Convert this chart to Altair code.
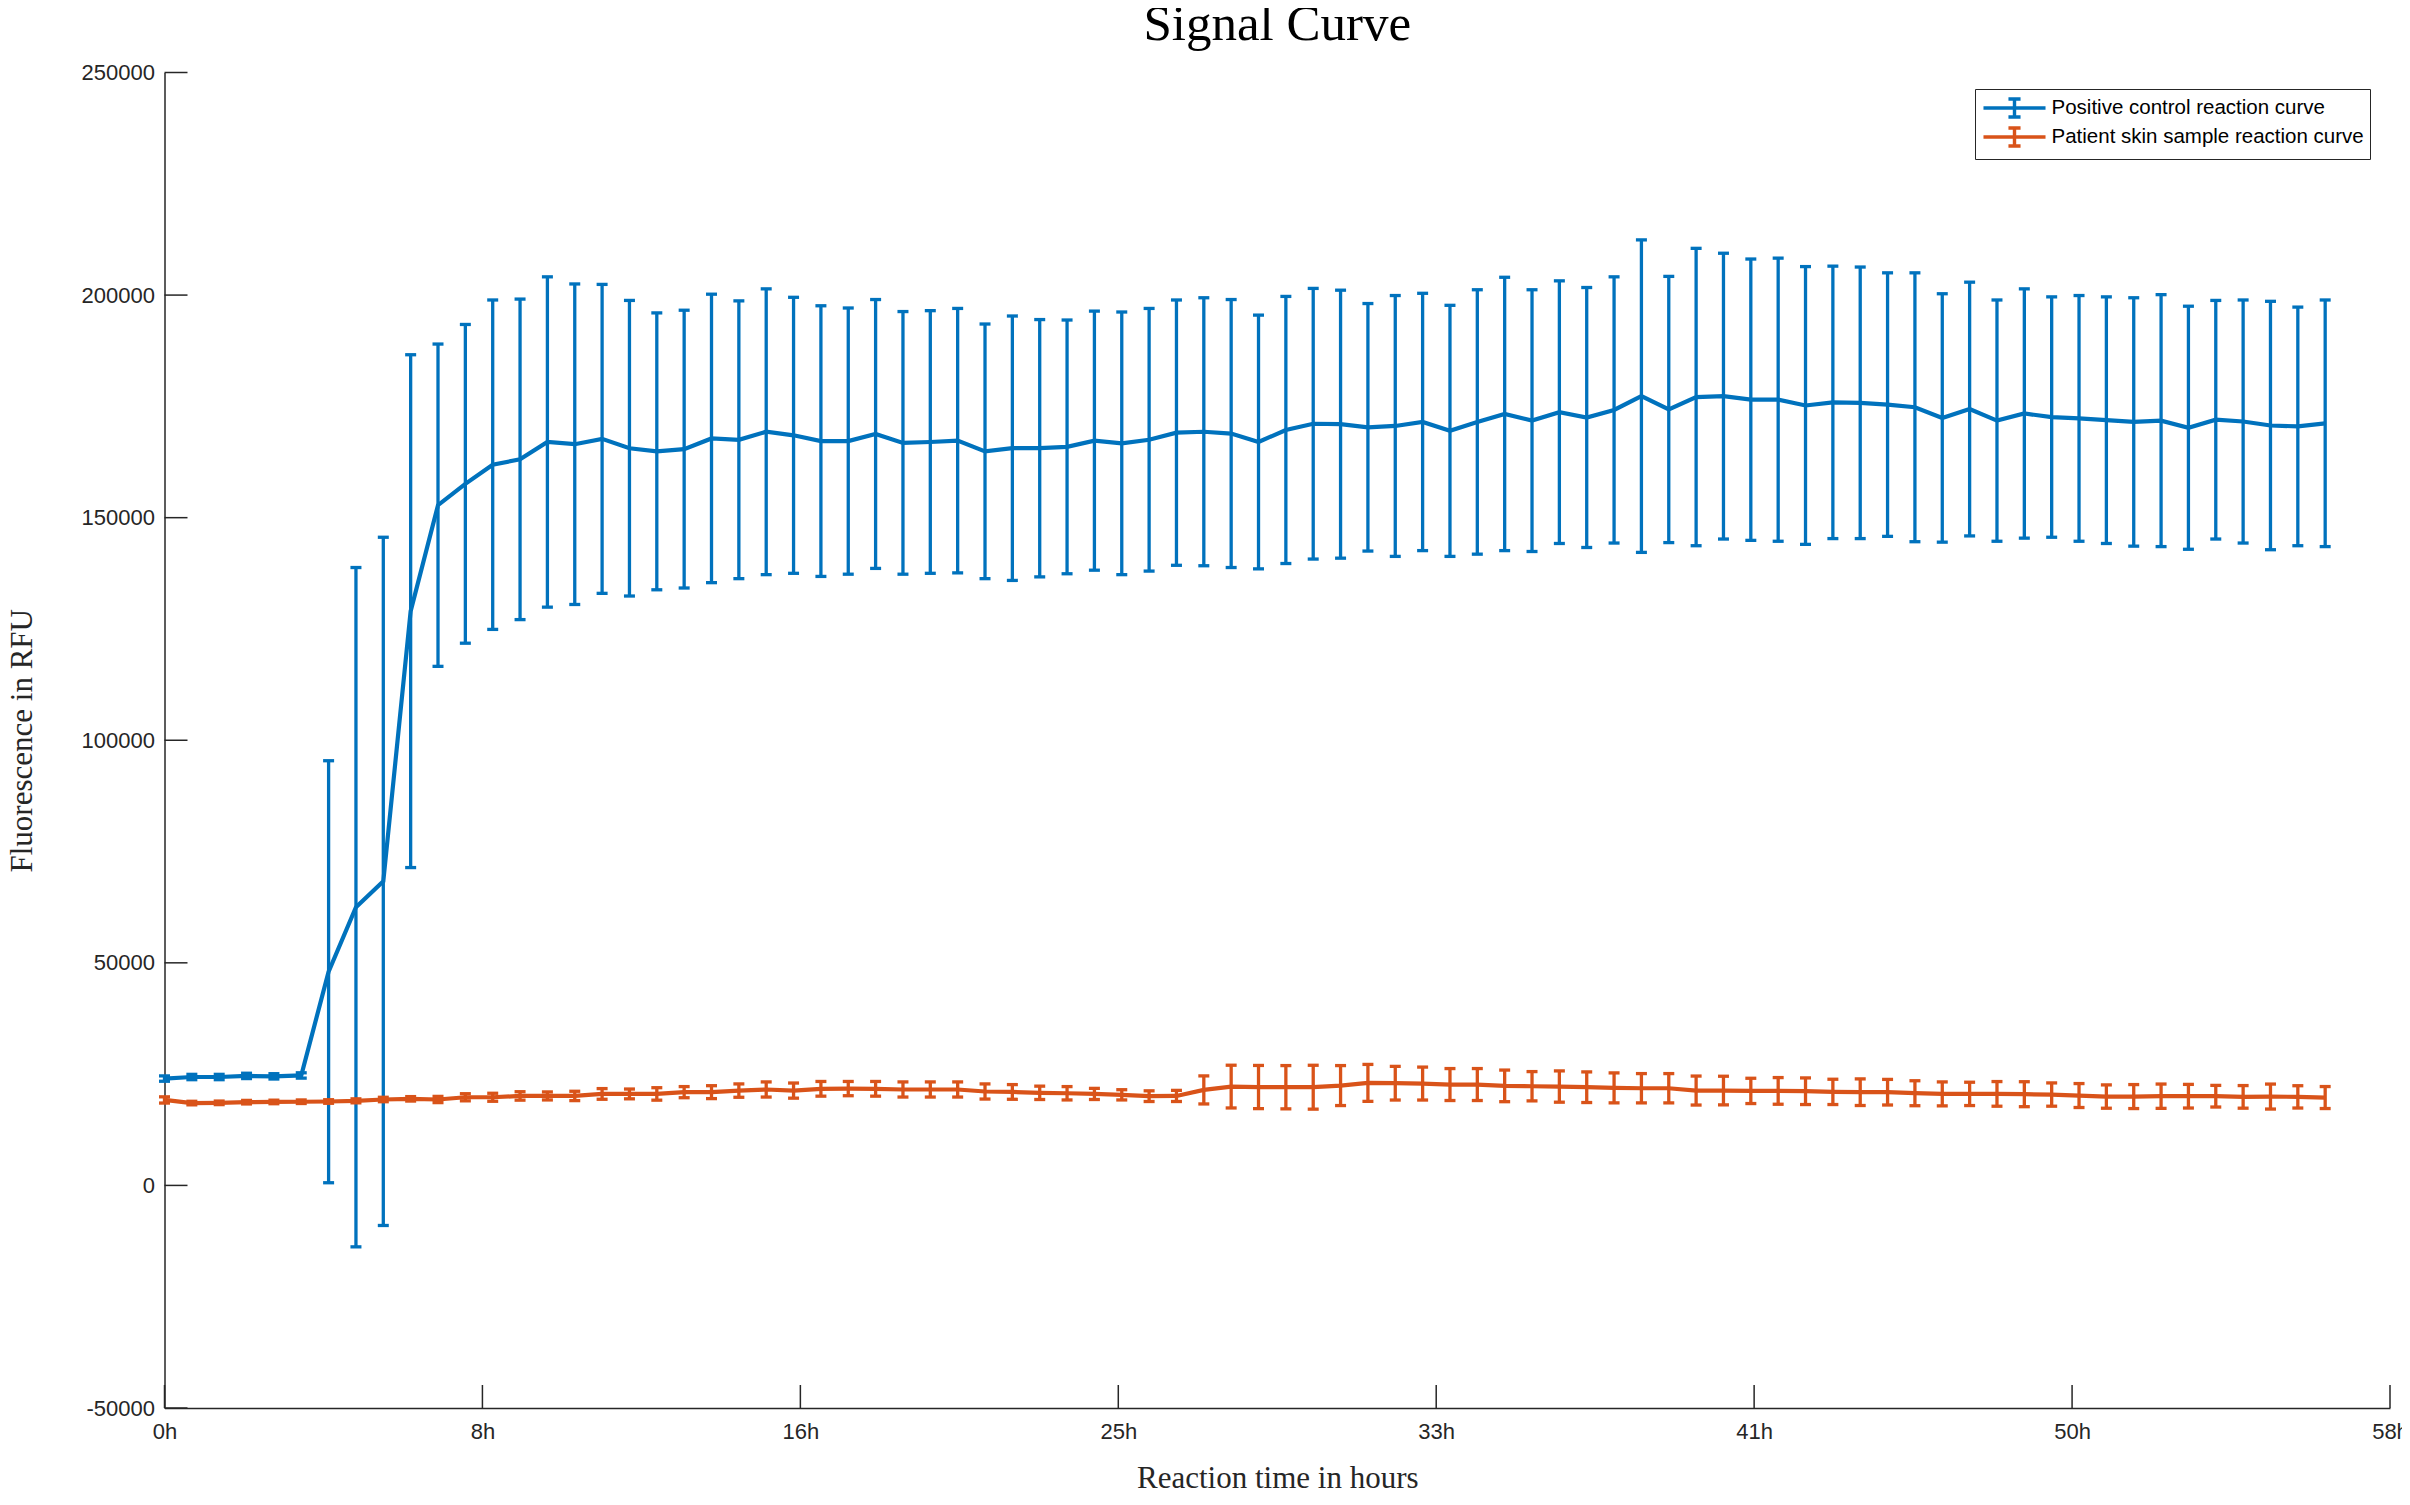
import altair as alt
import pandas as pd

# ---- data ----
sample = list(range(80))

pos_mean = [24000, 24350, 24350, 24600, 24500, 24700, 48000, 62500, 68300, 129000,
            152800, 157600, 161900, 163100, 167000, 166500, 167700, 165600, 164900, 165400,
            167800, 167500, 169300, 168500, 167200, 167200, 168800, 166800, 167000, 167300,
            164900, 165600, 165600, 165900, 167300, 166700, 167500, 169100, 169300, 168900,
            167000, 169700, 171100, 171000, 170300, 170600, 171500, 169500, 171500, 173300,
            171800, 173700, 172500, 174200, 177300, 174300, 177100, 177300, 176500, 176500,
            175200, 175900, 175800, 175400, 174800, 172400, 174400, 171800, 173400, 172600,
            172300, 171900, 171500, 171800, 170200, 172000, 171600, 170700, 170500, 171200]
pos_err = [600, 600, 600, 600, 600, 600, 47400, 76300, 77300, 57600,
           36200, 35800, 37000, 36000, 37100, 36000, 34700, 33200, 31100, 31200,
           32400, 31200, 32100, 31000, 30400, 29900, 30200, 29500, 29500, 29700,
           28600, 29700, 28900, 28500, 29100, 29500, 29500, 29800, 30100, 30100,
           28500, 30000, 30400, 30100, 27800, 29300, 28900, 28200, 29700, 30700,
           29400, 29500, 29200, 29900, 35100, 29900, 33400, 32100, 31600, 31800,
           31200, 30600, 30500, 29600, 30200, 27900, 28500, 27100, 28000, 27000,
           27600, 27700, 27900, 28300, 27300, 26800, 27300, 27900, 26800, 27700]

pat_mean = [19200, 18500, 18550, 18700, 18750, 18800, 18850, 19000, 19300, 19450,
            19300, 19800, 19800, 20100, 20100, 20100, 20550, 20550, 20550, 20950,
            20950, 21300, 21550, 21300, 21700, 21750, 21700, 21550, 21550, 21550,
            21100, 21000, 20800, 20700, 20550, 20350, 20050, 20100, 21450, 22200,
            22100, 22060, 22060, 22430, 23030, 22960, 22880, 22660, 22660, 22360,
            22280, 22210, 22060, 21910, 21830, 21830, 21310, 21310, 21230, 21230,
            21160, 21010, 20940, 20940, 20710, 20560, 20560, 20560, 20490, 20410,
            20190, 19960, 19960, 20040, 20040, 20040, 19890, 19960, 19890, 19740]
pat_err = [700, 400, 400, 400, 400, 400, 400, 450, 500, 500,
           700, 800, 900, 950, 900, 1050, 1200, 1100, 1400, 1250,
           1450, 1500, 1700, 1700, 1650, 1600, 1650, 1700, 1700, 1700,
           1700, 1650, 1500, 1500, 1250, 1150, 1200, 1250, 3150, 4800,
           4850, 4860, 4930, 4490, 4150, 3780, 3700, 3590, 3590, 3550,
           3290, 3515, 3440, 3365, 3290, 3290, 3255, 3215, 2840, 2995,
           2990, 2840, 2990, 2875, 2805, 2690, 2620, 2770, 2805, 2615,
           2690, 2620, 2695, 2730, 2655, 2430, 2540, 2805, 2505, 2470]

series_names = ["Positive control reaction curve", "Patient skin sample reaction curve"]
series_colors = ["#0072BD", "#D95319"]

y_ticks = [-50000, 0, 50000, 100000, 150000, 200000, 250000]
x_tick_pos = [0, 11.624, 23.249, 34.873, 46.497, 58.121, 69.746, 81.37]
x_tick_labels = ["0h", "8h", "16h", "25h", "33h", "41h", "50h", "58h"]

# ---- table ----
rows = []
for name, means, errs in [(series_names[0], pos_mean, pos_err),
                          (series_names[1], pat_mean, pat_err)]:
    for i, m, e in zip(sample, means, errs):
        rows.append({"series": name, "i": i, "mean": m, "lo": m - e, "hi": m + e})
df = pd.DataFrame(rows)

W, H = 2225.5, 1335.5
AX = "#262626"

xscale = alt.Scale(domain=[0, 81.37], nice=False, zero=False)
yscale = alt.Scale(domain=[-50000, 250000], nice=False, zero=False)

label_js = "[" + ",".join("'%s'" % s for s in x_tick_labels) + "]"
pos_js = "[" + ",".join(str(v) for v in x_tick_pos) + "]"
xaxis = alt.Axis(
    values=x_tick_pos,
    labelExpr=label_js + "[indexof(" + pos_js + ", datum.value)]",
    title="Reaction time in hours",
    titleFont="Liberation Serif", titleFontSize=31, titleFontWeight="normal",
    titleColor=AX, titleBaseline="alphabetic", titleX=W / 2, titleY=79.5, titleAlign="center",
    labelFont="Liberation Sans", labelFontSize=22, labelColor=AX, labelPadding=13,
    ticks=False, tickSize=0, grid=False, domainColor=AX, domainWidth=1.5,
    labelOverlap=False, labelFlush=False,
)
yaxis = alt.Axis(
    values=y_ticks,
    labelExpr="'' + datum.value",
    title="Fluorescence in RFU",
    titleFont="Liberation Serif", titleFontSize=31, titleFontWeight="normal",
    titleColor=AX, titleAngle=270, titleBaseline="alphabetic",
    titleX=-133, titleY=H / 2, titleAlign="center",
    labelFont="Liberation Sans", labelFontSize=22, labelColor=AX, labelPadding=10,
    ticks=False, tickSize=0, grid=False, domainColor=AX, domainWidth=1.5,
    labelOverlap=False, labelFlush=False,
)

cscale = alt.Scale(domain=series_names, range=series_colors)
legend = alt.Legend(
    title=None, orient="none", legendX=1810.5, legendY=16.5, direction="vertical",
    symbolType="M-2.82,0L2.82,0M0,-0.82L0,0.82M-0.55,-0.82L0.55,-0.82M-0.55,0.82L0.55,0.82",
    symbolSize=484, symbolStrokeWidth=3.4, symbolFillColor="transparent",
    symbolOffset=20.5,
    labelFont="Liberation Sans", labelFontSize=20.5, labelColor="black",
    labelOffset=24, labelLimit=1000, padding=6, rowPadding=-10,
    strokeColor=AX, fillColor="white", cornerRadius=0,
)

X = alt.X("i:Q", scale=xscale, axis=xaxis)
color = alt.Color("series:N", scale=cscale, legend=legend)

BAR_W = 3.3
layers = []
for name in series_names:
    base = alt.Chart(df).transform_filter(alt.datum.series == name)
    bars = base.mark_rule(strokeWidth=BAR_W).encode(
        x=X, y=alt.Y("lo:Q", scale=yscale, axis=yaxis), y2="hi:Q", color=color)
    cap_hi = base.mark_rule(strokeWidth=BAR_W, xOffset=-5.5, x2Offset=5.5).encode(
        x=X, x2="i:Q", y=alt.Y("hi:Q", scale=yscale, axis=yaxis), color=color)
    cap_lo = base.mark_rule(strokeWidth=BAR_W, xOffset=-5.5, x2Offset=5.5).encode(
        x=X, x2="i:Q", y=alt.Y("lo:Q", scale=yscale, axis=yaxis), color=color)
    line = base.mark_line(strokeWidth=4.2).encode(
        x=X, y=alt.Y("mean:Q", scale=yscale, axis=yaxis), color=color)
    layers += [bars, cap_hi, cap_lo, line]

# inward axis ticks (MATLAB style)
ytick_df = pd.DataFrame({"v": y_ticks})
xtick_df = pd.DataFrame({"v": x_tick_pos})
ytick_layer = alt.Chart(ytick_df).mark_rule(color=AX, strokeWidth=1.5).encode(
    y=alt.Y("v:Q", scale=yscale, axis=yaxis), x=alt.value(0), x2=alt.value(23))
xtick_layer = alt.Chart(xtick_df).mark_rule(color=AX, strokeWidth=1.5).encode(
    x=alt.X("v:Q", scale=xscale, axis=xaxis), y=alt.value(H), y2=alt.value(H - 23))

chart = alt.layer(ytick_layer, xtick_layer, *layers).properties(
    width=W, height=H,
    title=alt.TitleParams(
        "Signal Curve", font="Liberation Serif", fontSize=51, fontWeight="normal",
        color="black", anchor="middle", frame="group", offset=11,
    ),
    autosize=alt.AutoSizeParams(type="none"),
    padding={"left": 156.5, "top": 64.5, "right": 12, "bottom": 82},
).configure(
    background="white",
    view=alt.ViewConfig(stroke=None),
)

chart.save("out.html", embed_options={"renderer": "svg", "actions": False})
